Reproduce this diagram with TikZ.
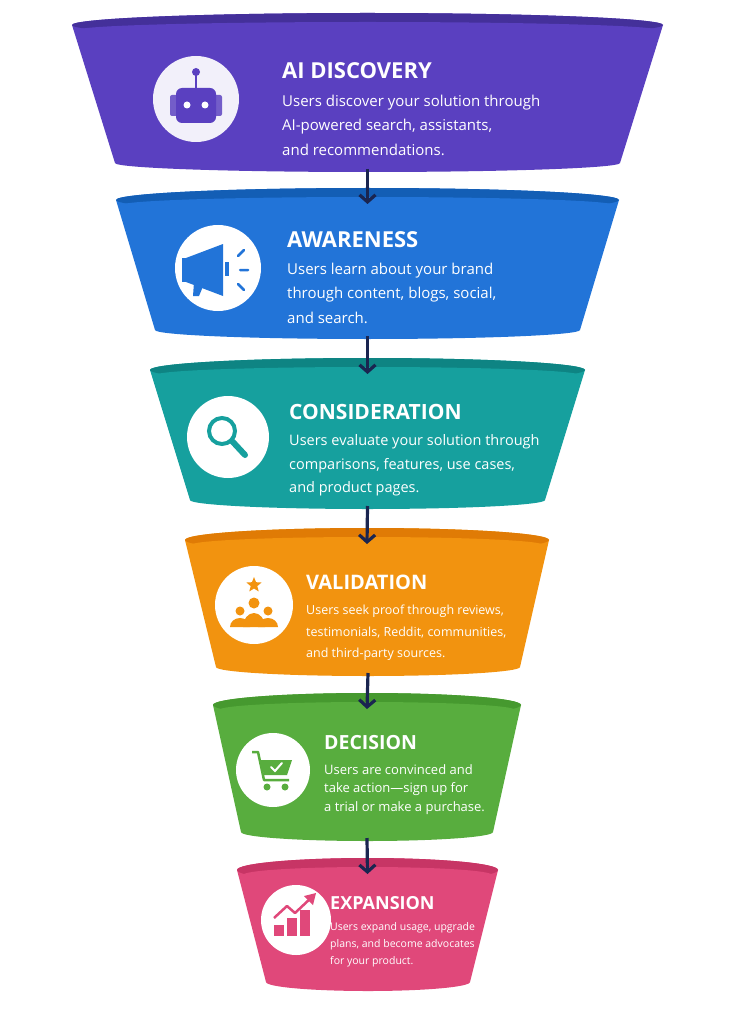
\documentclass[tikz,border=0pt]{standalone}
\usepackage{fontspec}
\setmainfont{Open Sans}
\usetikzlibrary{arrows.meta,shapes.geometric}
\definecolor{pA}{HTML}{5A40C0}\definecolor{pAr}{HTML}{44309A}
\definecolor{pB}{HTML}{2274D8}\definecolor{pBr}{HTML}{135EB5}
\definecolor{pC}{HTML}{16A09E}\definecolor{pCr}{HTML}{0E8483}
\definecolor{pD}{HTML}{F2930F}\definecolor{pDr}{HTML}{E07B05}
\definecolor{pE}{HTML}{58AD3E}\definecolor{pEr}{HTML}{46992F}
\definecolor{pF}{HTML}{E0487A}\definecolor{pFr}{HTML}{C73565}
\definecolor{navy}{HTML}{1A2550}
\newcommand\funnel[9]{% name, body, rim, xlt, xrt, yt, xlb, xrb, yb
  \fill[#2] (#4,#6) -- (#7,#9) arc[start angle=180,end angle=0,x radius={(#8-#7)/2},y radius=9]
     -- (#5,#6) arc[start angle=0,end angle=-180,x radius={(#5-#4)/2},y radius=12] -- cycle;
  \fill[#3] ({(#4+#5)/2},#6) ellipse[x radius={(#5-#4)/2},y radius=12];
  \fill[#2] ({(#4+#5)/2},#6+5) ellipse[x radius={(#5-#4)/2-6},y radius=8];
  \coordinate (#1t) at ({(#4+#5)/2},#6+4);
  \coordinate (#1b) at ({(#7+#8)/2},#9+6);
}
\tikzset{
  ttl/.style={anchor=west,text=white,font=\bfseries\fontsize{#1}{#1}\selectfont,inner sep=0},
  bdy/.style={anchor=west,text=white,font=\fontsize{#1}{#1}\selectfont,inner sep=0},
  icn/.style={circle,fill=white,inner sep=0,minimum size=#1},
  arr/.style={navy,line width=3.2pt,-{Straight Barb[length=7pt,width=16pt,line width=3.2pt]}}
}
\begin{document}
\begin{tikzpicture}[x=1pt,y=-1pt]
\useasboundingbox (0,0) rectangle (737,1024);
\fill[white] (0,0) rectangle (737,1024);
\funnel{s1}{pA}{pAr}{72}{663}{25}{115}{620}{163}
\funnel{s2}{pB}{pBr}{116}{619}{200}{155}{580}{330}
\funnel{s3}{pC}{pCr}{150}{585}{370}{190}{545}{500}
\funnel{s4}{pD}{pDr}{185}{549}{540}{216}{520}{667}
\funnel{s5}{pE}{pEr}{213}{521}{705}{241}{493}{832}
\funnel{s6}{pF}{pFr}{237}{498}{870}{266}{470}{982}
\draw[arr] (s1b) -- (s2t);
\draw[arr] (s2b) -- (s3t);
\draw[arr] (s3b) -- (s4t);
\draw[arr] (s4b) -- (s5t);
\draw[arr] (s5b) -- (s6t);
% icons
\node[icn=86pt,fill=pA!8] (i1) at (196,99) {};
\fill[pA!85,rounded corners=2pt] (170,95) rectangle (178,116);\fill[pA!85,rounded corners=2pt] (214,95) rectangle (222,116);
\fill[pA,rounded corners=6pt] (176,88) rectangle (216,123);
\draw[pA,line width=2pt] (196,88) -- (196,75);\fill[pA] (196,72) circle(4);
\fill[white] (187,105) circle(3.5);\fill[white] (205,105) circle(3.5);
\node[icn=86pt] (i2) at (218,268) {};
\fill[pB] (186,258) -- (223,244) -- (223,296) -- (186,282) -- cycle;
\fill[pB] (182,258) rectangle (190,282);
\fill[pB] (194,282) -- (204,284) -- (199,296) -- (193,296) -- cycle;
\fill[pB] (225,262) rectangle (229,276);
\draw[pB,line width=2.5pt,line cap=round] (238,256)--(244,250) (240,270)--(248,270) (238,284)--(244,290);
\node[icn=82pt] (i3) at (228,437) {};
\draw[pC,line width=4pt] (222,431) circle(13);
\draw[pC,line width=6pt,line cap=round] (232,441) -- (245,455);
\node[icn=78pt] (i4) at (254,605) {};
\node[star,star points=5,star point ratio=2.3,fill=pD,inner sep=0,minimum size=16pt] (st) at (254,585) {};
\fill[pD] (254,603) circle(5.5);\fill[pD] (240,611) circle(4.5);\fill[pD] (268,611) circle(4.5);
\fill[pD] (230,627) arc[start angle=180,end angle=360,x radius=10,y radius=9] -- cycle;
\fill[pD] (258,627) arc[start angle=180,end angle=360,x radius=10,y radius=9] -- cycle;
\fill[pD] (243,627) arc[start angle=180,end angle=360,x radius=11,y radius=14] -- cycle;
\node[icn=74pt] (i5) at (273,770) {};
\draw[pE,line width=2.5pt,line join=round] (252,752) -- (258,752) -- (264,780) -- (289,780);
\fill[pE] (260,760) -- (292,760) -- (287,775) -- (264,775) -- cycle;
\draw[white,line width=2pt,line cap=round] (271,767) -- (275,771) -- (282,763);
\fill[pE] (267,787) circle(3.5);\fill[pE] (285,787) circle(3.5);
\node[icn=70pt] (i6) at (296,920) {};
\fill[pF] (274,925) rectangle (284,936);\fill[pF] (287,918) rectangle (297,936);\fill[pF] (300,910) rectangle (310,936);
\draw[pF,line width=2.5pt,line join=round] (274,918) -- (287,906) -- (295,913) -- (312,897);
\fill[pF] (316,893) -- (304,896) -- (313,905) -- cycle;
% text
\node[ttl=22] (h1) at (282,71) {AI DISCOVERY};
\node[bdy=15] (a1) at (282,103) {Users discover your solution through};
\node[bdy=15] (b1) at (282,127) {AI-powered search, assistants,};
\node[bdy=15] (c1) at (282,150) {and recommendations.};
\node[ttl=22] (h2) at (287,240) {AWARENESS};
\node[bdy=15] (a2) at (287,271) {Users learn about your brand};
\node[bdy=15] (b2) at (287,295) {through content, blogs, social,};
\node[bdy=15] (c2) at (287,318) {and search.};
\node[ttl=21] (h3) at (289,412) {CONSIDERATION};
\node[bdy=14.5] (a3) at (289,442) {Users evaluate your solution through};
\node[bdy=14.5] (b3) at (289,466) {comparisons, features, use cases,};
\node[bdy=14.5] (c3) at (289,489) {and product pages.};
\node[ttl=20] (h4) at (306,582) {VALIDATION};
\node[bdy=12.5] (a4) at (306,611) {Users seek proof through reviews,};
\node[bdy=12.5] (b4) at (306,633) {testimonials, Reddit, communities,};
\node[bdy=12.5] (c4) at (306,654) {and third-party sources.};
\node[ttl=19.5] (h5) at (324,743) {DECISION};
\node[bdy=13] (a5) at (324,770) {Users are convinced and};
\node[bdy=13] (b5) at (324,789) {take action—sign up for};
\node[bdy=13] (c5) at (324,808) {a trial or make a purchase.};
\node[ttl=18] (h6) at (330,903) {EXPANSION};
\node[bdy=10.5] (a6) at (330,928) {Users expand usage, upgrade};
\node[bdy=10.5] (b6) at (330,945) {plans, and become advocates};
\node[bdy=10.5] (c6) at (330,962) {for your product.};
\end{tikzpicture}
\end{document}
